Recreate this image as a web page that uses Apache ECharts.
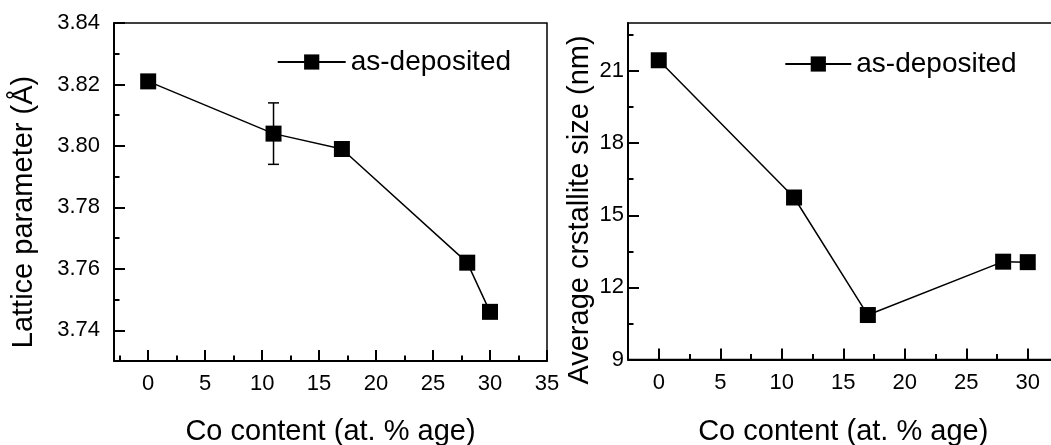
<!DOCTYPE html>
<html>
<head>
<meta charset="utf-8">
<script src="https://cdn.jsdelivr.net/npm/echarts@6/dist/echarts.min.js"></script>
<style>
html,body{margin:0;padding:0;background:#fff;}
#chart{width:1051px;height:445px;}
</style>
</head>
<body>
<div id="chart"></div>
<script>
// ---- data ----
const coContent = [0, 11, 17, 28, 30];
const latticeParam = [3.821, 3.804, 3.799, 3.762, 3.746];
const errX = [11];
const errLow = [3.794];
const errHigh = [3.814];
const crystalliteSize = [21.45, 15.74, 10.85, 13.07, 13.05];

// ---- tick values ----
const leftXMajor = [0, 5, 10, 15, 20, 25, 30, 35];
const leftXMinor = [-2.5, 2.5, 7.5, 12.5, 17.5, 22.5, 27.5, 32.5];
const leftYMajor = [3.74, 3.76, 3.78, 3.80, 3.82, 3.84];
const leftYMinor = [3.73, 3.75, 3.77, 3.79, 3.81, 3.83];
const rightXMajor = [0, 5, 10, 15, 20, 25, 30];
const rightXMinor = [-2.5, 2.5, 7.5, 12.5, 17.5, 22.5, 27.5, 32.5];
const rightYMajor = [9, 12, 15, 18, 21];
const rightYMinor = [10.5, 13.5, 16.5, 19.5, 22.5];

const seriesName = 'as-deposited';
const xTitle = 'Co content (at. % age)';
const leftYTitle = 'Lattice parameter (Å)';
const rightYTitle = 'Average crstallite size (nm)';

const FONT = '"Liberation Sans", Arial, sans-serif';
const black = '#000';

function majorAxis(gridIndex, min, max, ticks, labels, opts) {
  return Object.assign({
    type: 'value', gridIndex, min, max,
    splitLine: { show: false },
    axisLine: { show: true, onZero: false, lineStyle: { color: black, width: 2 } },
    axisTick: { show: true, inside: true, length: 11, customValues: ticks, lineStyle: { color: black, width: 2 } },
    axisLabel: { show: true, customValues: labels, color: black, fontSize: 22, fontFamily: FONT }
  }, opts);
}
function minorAxis(gridIndex, min, max, ticks, opts) {
  return Object.assign({
    type: 'value', gridIndex, min, max,
    splitLine: { show: false },
    axisLine: { show: false, onZero: false },
    axisTick: { show: true, inside: true, length: 5.5, customValues: ticks, lineStyle: { color: black, width: 2 } },
    axisLabel: { show: false }
  }, opts);
}

const chart = echarts.init(document.getElementById('chart'), null, { renderer: 'canvas' });

const option = {
  backgroundColor: '#fff',
  animation: false,
  textStyle: { fontFamily: FONT },
  grid: [
    { left: 114, top: 23, width: 433, height: 338, show: true, borderColor: black, borderWidth: 1.5,
      backgroundColor: 'transparent', containLabel: false, outerBoundsMode: 'none' },
    { left: 628, top: 23, width: 430.5, height: 336.5, show: true, borderColor: black, borderWidth: 1.5,
      backgroundColor: 'transparent', containLabel: false, outerBoundsMode: 'none' }
  ],
  xAxis: [
    majorAxis(0, -3, 35, leftXMajor, leftXMajor, {
      position: 'bottom',
      axisLabel: { show: true, customValues: leftXMajor, color: black, fontSize: 22, fontFamily: FONT, margin: 12 },
      name: xTitle, nameLocation: 'middle', nameGap: 56,
      nameTextStyle: { color: black, fontSize: 29, fontFamily: FONT }
    }),
    minorAxis(0, -3, 35, leftXMinor, { position: 'bottom' }),
    majorAxis(1, -2.5, 32.5, rightXMajor, rightXMajor, {
      position: 'bottom',
      axisLabel: { show: true, customValues: rightXMajor, color: black, fontSize: 22, fontFamily: FONT, margin: 12 },
      name: xTitle, nameLocation: 'middle', nameGap: 58,
      nameTextStyle: { color: black, fontSize: 29, fontFamily: FONT }
    }),
    minorAxis(1, -2.5, 32.5, rightXMinor, { position: 'bottom' })
  ],
  yAxis: [
    majorAxis(0, 3.73, 3.84, leftYMajor, leftYMajor, {
      position: 'left',
      axisLabel: { show: true, customValues: leftYMajor, color: black, fontSize: 22, fontFamily: FONT, margin: 14,
        formatter: v => Number(v).toFixed(2) }
    }),
    minorAxis(0, 3.73, 3.84, leftYMinor, { position: 'left' }),
    majorAxis(1, 9, 23, rightYMajor, rightYMajor, {
      position: 'left',
      axisLabel: { show: true, customValues: rightYMajor, color: black, fontSize: 22, fontFamily: FONT, margin: 4 }
    }),
    minorAxis(1, 9, 23, rightYMinor, { position: 'left' })
  ],
  legend: [
    { data: [seriesName], left: 271.7, top: 43, itemWidth: 68, itemHeight: 19,
      textStyle: { color: black, fontSize: 28, fontFamily: FONT }, selectedMode: false },
    { data: [seriesName], left: 779.3, top: 45, itemWidth: 66, itemHeight: 19,
      textStyle: { color: black, fontSize: 28, fontFamily: FONT }, selectedMode: false }
  ],
  graphic: [
    { type: 'text', x: 24, y: 212, rotation: Math.PI / 2,
      style: { text: leftYTitle, fill: black, font: '29px ' + FONT, textAlign: 'center', textVerticalAlign: 'middle' } },
    { type: 'text', x: 580, y: 210, rotation: Math.PI / 2,
      style: { text: rightYTitle, fill: black, font: '29px ' + FONT, textAlign: 'center', textVerticalAlign: 'middle' } }
  ],
  series: [
    {
      name: seriesName, type: 'line', xAxisIndex: 0, yAxisIndex: 0, z: 3,
      data: coContent.map((x, i) => [x, latticeParam[i]]),
      symbol: 'rect', symbolSize: 16,
      itemStyle: { color: black },
      lineStyle: { color: black, width: 1.5 }
    },
    {
      name: 'error', type: 'custom', xAxisIndex: 0, yAxisIndex: 0, z: 2,
      data: errX.map((x, i) => [x, errLow[i], errHigh[i]]),
      renderItem: function (params, api) {
        const x = api.value(0);
        const pLo = api.coord([x, api.value(1)]);
        const pHi = api.coord([x, api.value(2)]);
        const w = 5.5;
        const st = { stroke: black, lineWidth: 1.5 };
        return {
          type: 'group',
          children: [
            { type: 'line', shape: { x1: pLo[0], y1: pLo[1], x2: pHi[0], y2: pHi[1] }, style: st },
            { type: 'line', shape: { x1: pLo[0] - w, y1: pLo[1], x2: pLo[0] + w, y2: pLo[1] }, style: st },
            { type: 'line', shape: { x1: pHi[0] - w, y1: pHi[1], x2: pHi[0] + w, y2: pHi[1] }, style: st }
          ]
        };
      }
    },
    {
      name: seriesName, type: 'line', xAxisIndex: 2, yAxisIndex: 2, z: 3,
      data: coContent.map((x, i) => [x, crystalliteSize[i]]),
      symbol: 'rect', symbolSize: 16,
      itemStyle: { color: black },
      lineStyle: { color: black, width: 1.5 }
    }
  ]
};
chart.setOption(option);
</script>
</body>
</html>
